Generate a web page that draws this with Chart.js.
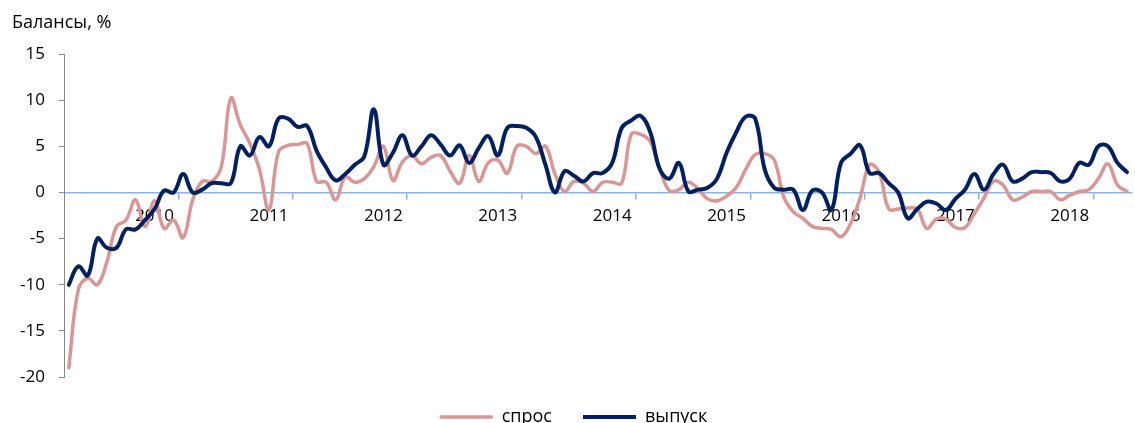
<!DOCTYPE html>
<html>
<head>
<meta charset="utf-8">
<script src="https://cdn.jsdelivr.net/npm/chart.js@4.4.1/dist/chart.umd.min.js"></script>
<style>
  html, body { margin: 0; padding: 0; background: #fff; overflow: hidden; }
  #wrap { width: 1135px; height: 423px; position: relative; }
</style>
</head>
<body>
<div id="wrap"><canvas id="balanceChart"></canvas></div>
<script>
// monthly balances, first month is April 2009
const startYear = 2009;
const startMonth = 4;

const seriesNames = ["спрос", "выпуск"];

const demand = [
  -19, -10.5, -9.3, -10, -7.5, -3.7, -3, -0.8, -3.7, -0.9,
  -3.9, -3, -4.9, -0.8, 1.2, 1.2, 2.8, 10.2, 7.3, 5.3,
  2.5, -1.9, 4.4, 5.1, 5.2, 5.3, 1.2, 1.1, -0.8, 1.7,
  1.1, 1.5, 2.8, 5, 1.3, 3.3, 4, 3.1, 3.8, 4,
  2.3, 1, 4, 1.2, 3.2, 3.5, 2.1, 5, 5, 4.2,
  5, 2, 0.1, 1.2, 1, 0.1, 1.1, 1.1, 1, 6.3,
  6.3, 5.5, 2.5, 0.2, 0.3, 1.1, 0.4, -0.7, -0.9, -0.4,
  0.5, 2.5, 4.1, 4.2, 3.5, -0.5, -2.1, -2.8, -3.7, -3.9,
  -4, -4.8, -3.4, -0.6, 3, 2.2, -1.8, -1.8, -1.7, -1.8,
  -3.9, -2.9, -2.9, -3.8, -3.8, -2.3, -0.6, 1.2, 0.8, -0.8,
  -0.5, 0.1, 0.1, 0.1, -0.8, -0.3, 0.1, 0.3, 1.5, 3.1,
  0.8, 0.1
];

const output = [
  -10, -8, -9, -5, -6, -6, -4, -4, -3, -1.8,
  0.2, 0, 2, 0, 0.3, 1, 1, 1, 5, 4,
  6, 5, 8, 8, 7.1, 7.2, 4.5, 2.7, 1.3, 2,
  3, 3.9, 9, 3, 4.3, 6.2, 4, 5, 6.2, 5.2,
  4, 5.1, 3.2, 4.8, 6.1, 4, 7, 7.2, 7, 6,
  3, 0, 2.3, 1.8, 1.2, 2.1, 2.1, 3.2, 7, 7.8,
  8.3, 6.5, 2.5, 1.5, 3.2, 0.1, 0.3, 0.5, 1.5, 4.3,
  6.5, 8.2, 8, 2.5, 0.5, 0.3, 0.3, -1.9, 0.2, 0,
  -1.9, 3.2, 4.2, 5.1, 2.1, 2.1, 1, 0, -2.8, -1.8,
  -1, -1.2, -1.9, -0.7, 0.3, 2, 0.3, 2, 3, 1.2,
  1.5, 2.2, 2.2, 2.1, 1.2, 1.5, 3.2, 3, 5, 5,
  3.2, 2.2
];

// "YYYY-MM" for every month
const months = [];
for (let i = 0; i < demand.length; i++) {
  const m = startMonth - 1 + i;
  months.push((startYear + Math.floor(m / 12)) + "-" + String(m % 12 + 1).padStart(2, "0"));
}

document.addEventListener("DOMContentLoaded", function () {
  Chart.defaults.font.family = "'Open Sans', sans-serif";
  Chart.defaults.color = "#000";

  const ctx = document.getElementById("balanceChart").getContext("2d");

  new Chart(ctx, {
    type: "line",
    data: {
      labels: months,
      datasets: [
        {
          label: seriesNames[0],
          data: demand,
          borderColor: "#d99694",
          backgroundColor: "#d99694",
          borderWidth: 3.5,
          borderCapStyle: "round",
          pointRadius: 0,
          tension: 0.4,
          order: 1
        },
        {
          label: seriesNames[1],
          data: output,
          borderColor: "#002060",
          backgroundColor: "#002060",
          borderWidth: 4,
          borderCapStyle: "round",
          pointRadius: 0,
          tension: 0.4,
          order: 0
        }
      ]
    },
    options: {
      responsive: true,
      maintainAspectRatio: false,
      animation: false,
      layout: { padding: { left: 12, right: 0, top: 0, bottom: -13 } },
      plugins: {
        title: {
          display: true,
          text: "Балансы, %",
          align: "start",
          color: "#000",
          font: { size: 18, weight: "normal", lineHeight: 1.2 },
          padding: { top: 12, bottom: 20.4 }
        },
        legend: {
          position: "bottom",
          labels: {
            usePointStyle: true,
            pointStyle: "line",
            pointStyleWidth: 53,
            padding: 31,
            color: "#000",
            font: { size: 18 },
            sort: (a, b) => a.datasetIndex - b.datasetIndex
          }
        },
        tooltip: { enabled: false }
      },
      scales: {
        x: {
          position: { y: 0 },
          offset: true,
          grid: {
            offset: true,
            drawOnChartArea: false,
            tickLength: 6,
            lineWidth: 1.5,
            color: (c) => (c.index > 0 && c.index % 12 === 0 ? "#8db3e2" : "rgba(0,0,0,0)")
          },
          border: { color: "#8db3e2", width: 1.5 },
          ticks: {
            autoSkip: false,
            maxRotation: 0,
            minRotation: 0,
            padding: 8,
            color: "#000",
            font: { size: 17 },
            callback: function (value) {
              const label = this.getLabelForValue(value);
              return label.endsWith("-01") ? label.slice(0, 4) : "";
            }
          }
        },
        y: {
          min: -20,
          max: 15,
          ticks: { stepSize: 5, padding: 14, color: "#000", font: { size: 17 } },
          grid: { drawOnChartArea: false, tickLength: 5, color: "#868686" },
          border: { color: "#868686", width: 1 },
          afterFit: (scale) => { scale.width = 52; }
        }
      }
    }
  });
});
</script>
</body>
</html>
